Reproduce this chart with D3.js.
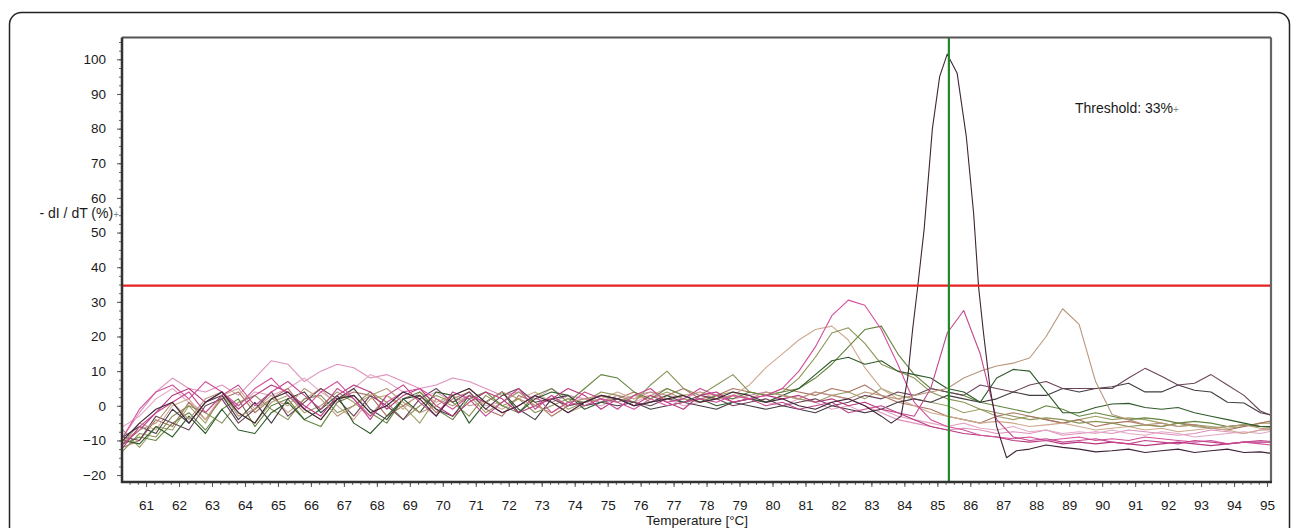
<!DOCTYPE html>
<html><head><meta charset="utf-8">
<script src="https://cdn.jsdelivr.net/npm/d3@7"></script>
<style>
html,body{margin:0;padding:0;background:#fff;}
svg{display:block;font-family:"Liberation Sans",Arial,sans-serif;}
</style></head><body>
<svg id="chart" width="1293" height="528"></svg>
<script>
// ---------- DATA ----------
const temps = [60.3,60.8,61.3,61.8,62.3,62.8,63.3,63.8,64.3,64.8,65.3,65.8,66.3,66.8,67.3,67.8,68.3,68.8,69.3,69.8,70.3,70.8,71.3,71.8,72.3,72.8,73.3,73.8,74.3,74.8,75.3,75.8,76.3,76.8,77.3,77.8,78.3,78.8,79.3,79.8,80.3,80.8,81.3,81.8,82.3,82.8,83.3,83.8,84.3,84.8,85.3,85.8,86.3,86.8,87.3,87.8,88.3,88.8,89.3,89.8,90.3,90.8,91.3,91.8,92.3,92.8,93.3,93.8,94.3,94.8,95.3];

const peakTemps = [60.3,60.8,61.3,61.8,62.3,62.8,63.3,63.8,64.3,64.8,65.3,65.8,66.3,66.8,67.3,67.8,68.3,68.8,69.3,69.8,70.3,70.8,71.3,71.8,72.3,72.8,73.3,73.8,74.3,74.8,75.3,75.8,76.3,76.8,77.3,77.8,78.3,78.8,79.3,79.8,80.3,80.8,81.3,81.8,82.3,82.8,83.3,
  83.6,83.9,84.1,84.25,84.4,84.6,84.85,85.07,85.3,85.6,85.88,86.1,86.25,86.4,86.6,86.8,87.1,87.4,87.8,88.3,88.8,89.3,89.8,90.3,90.8,91.3,91.8,92.3,92.8,93.3,93.8,94.3,94.8,95.3];
const peakValues = [-10,-5,-1,1,-5,1,4,-2,-5,2, 4,-1,-4,2,3,-2,0,4,2,-3, 3,5,1,-2,0,3,1,-2,1,3, 2,0,1,2,3,1,2,4,3,1, 2,0,-1,1,2,0,-3,
  -5,-3,8,22,34,51,80,95,101.5,96,77.6,55.6,34.4,21,5,-6,-15,-13,-12.5,-11.3,-12,-12.5,-13.3,-13,-12.5,-13.5,-13,-12.5,-13.5,-13,-12.5,-13.5,-13.3,-14];

const pink2Values = [-12,-6,-2,1,4,-2,3,6,0,4, 7,3,-1,5,2,-4,3,6,1,-3, 4,2,-3,1,5,-1,3,0,4,2, -1,3,5,1,2,5,3,1,2,0, 1,-1,0,1,-2,-1,0,-2,-3,5, 21,27.5,15,-4,-9,-10,-9.5,-10.5,-10,-9.5, -10.5,-11,-10,-10.5,-11,-10,-10.5,-11,-10.5,-10,-10.5];
const tanLateValues = [-10,-7,-5,1,-4,2,4,-3,-1,2, 0,5,2,-3,0,3,5,1,-2,0, 3,0,1,4,2,0,-2,1,2,3, 1,3,4,2,3,1,2,3,2,4, 3,2,4,3,2,4,3,2,3,4, 5,8,10,11.5,12.3,13.8,20,28,23.5,7, -2.5,-4,-5.5,-5,-6,-5.5,-6.5,-6,-5.5,-6.5,-7];
const pinkAValues = [-9,-1,4,6,2,7,4,0,5,8, 3,-1,4,7,2,-3,1,4,5,2, -1,3,1,-2,0,3,-2,1,0,2, 1,-1,2,0,1,2,1,3,2,3, 5,10,17,26,30.5,29,22,12,1,-4, -6,-7,-8.5,-9,-9.5,-9,-10,-9.5,-9,-10, -9.5,-10,-9,-9.5,-10,-10.5,-10,-11,-10.5,-11,-11.5];
const tanEarlyValues = [-11,-5,-7,0,2,-4,3,5,-1,3, -2,2,5,0,-4,2,3,-1,4,1, 3,5,1,-1,2,4,1,-2,0,2, 4,2,3,5,3,4,2,3,6,11, 15,19,22,23,19,11,5,2,0,-2, -3,-4,-5,-4.5,-5,-6,-5.5,-5,-6,-7, -6.5,-6,-7,-6.5,-7.5,-7,-6.5,-7,-8,-7,-7];
const oliveValues = [-13,-8,-9,-3,0,-2,-5,1,3,-1, -4,2,3,-2,0,4,1,-4,0,3, 1,-3,3,0,2,-2,0,2,1,4, 3,1,6,10,5,3,6,9,4,3, 4,8,14,21,22.5,18,12,10,8,4, 2,1,-1,-2,-3,-4,-3.5,-4,-5,-4.5, -5,-6,-5.5,-6,-5,-6,-6.5,-6,-5.5,-6,-6.5];
const greenValues = [-11,-9,-10,-5,-2,-7,-1,2,-6,0, 2,-4,-6,1,3,-2,-5,2,4,-1, -4,2,4,0,-2,3,5,1,5,9, 8,4,2,5,3,1,3,2,4,3, 4,5,8,12,17,22,23,15,9,5, 4,3,1,0,-1,-2,0,-1,-3,-2, -3,-4,-3.5,-4,-5,-4.5,-5,-6,-5.5,-6,-6];
const darkGreenValues = [-10,-11,-6,-9,-3,-8,-1,-7,-8,-2, 1,-4,-1,3,-5,-8,-3,2,-2,4, 3,-5,1,4,-2,2,4,3,-1,1, 2,0,1,3,1,2,0,1,2,1, 3,5,9,13,14,12,13,10,9,8, 5,4,1,8,10.5,10,4,-2,-2,-0.5, 0.5,0.7,-0.5,-1,-0.5,-2,-3,-4,-5,-6,-6];
const mauveValues = [-9,-10,-3,-5,-7,0,2,-5,-1,4, -3,1,5,2,-3,3,0,-4,2,5, 1,4,-1,3,5,1,2,0,1,3, 2,1,0,2,1,3,2,0,1,2, 0,1,2,0,1,3,2,4,3,5, 4,3,6,5,4,6,7,5,5,5, 5,8,10.8,8.5,6,6.5,9,6,3,-1.5,-3.5];
const darkGrayValues = [-9,-6,-8,-1,-5,1,3,-4,1,-5, 2,4,-2,2,5,-1,-4,2,3,-1, -3,3,1,4,-1,-4,2,3,0,1, 0,1,-1,0,1,0,-1,1,0,-1, 0,-1,-2,0,-1,-2,-1,1,2,1, 3,2,1,2,4,3,3,5,4,5, 5.5,6.5,4,4,6,4.5,4,1,0.8,-2,-3];
const lightPinkValues = [-9,-2,4,8,5,4,6,3,8,13, 12,7,10,12,11,8,9,7,5,6, 8,7,5,3,4,2,1,3,2,1, 3,2,4,3,2,4,3,2,3,4, 3,2,4,3,2,0,-2,-4,-5,-6, -7,-6.5,-7,-8,-7.5,-8,-7,-8.5,-8,-7.5, -8,-7,-7.5,-8,-8.5,-8,-7,-7.5,-8,-7,-6.5];
const magentaValues = [-11,-7,-2,3,5,1,4,-1,3,6, 4,0,-3,3,6,4,-1,3,5,0, -3,1,4,2,-2,0,2,5,3,-1, 2,0,3,1,-1,3,4,1,2,3, 2,3,1,2,0,1,-1,-2,-4,-6, -7,-8,-8.5,-9,-10,-10.5,-10,-11,-10.5,-11, -10.5,-11,-11.5,-11,-10.5,-11,-11.5,-11,-10.5,-10.5,-10.5];
const roseBrownValues = [-12,-10,-4,-6,1,-4,2,4,-2,2, 5,-1,-4,2,4,3,-3,0,3,-2, 2,4,-1,-3,3,1,-3,0,1,3, 2,4,1,3,5,2,3,5,4,3, 5,4,3,5,4,6,3,1,0,-1, -3,-4,-5,-3,-2,-3,-4,-5,-4,-6, -5,-4.5,-5.5,-6,-5,-5.5,-6.5,-7,-6,-5,-4];
const oliveLightValues = [-7,-12,-6,-7,0,-5,3,-2,-5,1, 3,-2,0,4,1,-3,3,0,-5,2, 0,3,-2,1,4,0,3,-1,1,2, 1,3,2,4,2,1,3,4,2,1, 3,2,1,3,4,2,5,3,2,1, 0,-2,-1,-3,-4,-3,-4,-5,-4,-3, -4,-3.5,-4,-5,-6,-5.5,-6,-6.5,-6,-5,-5];
const palePinkValues = [-6,-3,2,5,1,-2,3,0,4,3, 5,8,4,1,5,9,7,4,2,4, 1,3,0,1,4,2,5,2,1,0, 2,1,3,2,0,1,2,3,2,1, 0,2,1,-1,0,-2,-1,-3,-4,-5, -6,-5,-6.5,-7,-6,-7.5,-7,-8,-7.5,-8, -7,-8,-8.5,-7.5,-8,-9,-8.5,-8,-7.5,-8,-7];

const xTickLabels = [61,62,63,64,65,66,67,68,69,70,71,72,73,74,75,76,77,78,79,80,81,82,83,84,85,86,87,88,89,90,91,92,93,94,95];
const yTickLabels = [-20,-10,0,10,20,30,40,50,60,70,80,90,100];
const thresholdValue = 34.7;
const meltTemp = 85.35;

// ---------- CHART ----------
const plot = {left: 122, right: 1271, top: 37.5, bottom: 482};
const svg = d3.select("#chart");

const x = d3.scaleLinear().domain([60.27, 95.12]).range([plot.left, plot.right]);
const y = d3.scaleLinear().domain([-22, 106.3]).range([plot.bottom, plot.top]);

// outer rounded border
svg.append("rect").attr("x", 9.5).attr("y", 12.5).attr("width", 1280).attr("height", 540)
  .attr("rx", 12).attr("fill", "none").attr("stroke", "#222").attr("stroke-width", 1.5);

svg.append("defs").append("clipPath").attr("id", "clip")
  .append("rect").attr("x", plot.left).attr("y", plot.top)
  .attr("width", plot.right - plot.left).attr("height", plot.bottom - plot.top);

const series = [
  {values: lightPinkValues, color: "#de90bb"},
  {values: palePinkValues, color: "#e3a7c4"},
  {values: oliveLightValues, color: "#a0a06a"},
  {values: roseBrownValues, color: "#a9735f"},
  {values: tanEarlyValues, color: "#cfa98f"},
  {values: oliveValues, color: "#8b9258"},
  {values: greenValues, color: "#64853f"},
  {values: darkGrayValues, color: "#433c44"},
  {values: mauveValues, color: "#6b4458"},
  {values: darkGreenValues, color: "#2f5a2b"},
  {values: magentaValues, color: "#b8367e"},
  {values: tanLateValues, color: "#b8977c"},
  {values: pinkAValues, color: "#d24f9b"},
  {values: pink2Values, color: "#c4478f"}
].map(s => ({color: s.color, pts: temps.map((t, i) => [t, s.values[i]]).filter(p => p[1] !== undefined)}));
series.push({color: "#3e2537", pts: peakTemps.map((t, i) => [t, peakValues[i]]).filter(p => p[1] !== undefined)});

const line = d3.line().x(d => x(d[0])).y(d => y(d[1]));

const gLines = svg.append("g").attr("clip-path", "url(#clip)");
gLines.selectAll("path").data(series).join("path")
  .attr("d", d => line(d.pts)).attr("fill", "none")
  .attr("stroke", d => d.color).attr("stroke-width", 1.1).attr("stroke-linejoin", "round");

// threshold + melting temp lines
svg.append("line").attr("x1", plot.left).attr("x2", plot.right)
  .attr("y1", y(thresholdValue)).attr("y2", y(thresholdValue))
  .attr("stroke", "#e52222").attr("stroke-width", 2.2);
svg.append("line").attr("x1", x(meltTemp)).attr("x2", x(meltTemp))
  .attr("y1", plot.top).attr("y2", plot.bottom)
  .attr("stroke", "#23882a").attr("stroke-width", 2.2);

// frame (top / right)
svg.append("line").attr("x1", plot.left).attr("x2", plot.right).attr("y1", plot.top).attr("y2", plot.top)
  .attr("stroke", "#555").attr("stroke-width", 2);
svg.append("line").attr("x1", plot.right).attr("x2", plot.right).attr("y1", plot.top).attr("y2", plot.bottom)
  .attr("stroke", "#666").attr("stroke-width", 2.2);

// axes
const fontSize = 13.5;
const yMinor = d3.range(-20, 106, 2.5);
svg.append("g").attr("transform", `translate(${plot.left},0)`)
  .call(d3.axisLeft(y).tickValues(yMinor).tickSize(3).tickFormat(""))
  .call(g => g.select(".domain").remove())
  .call(g => g.selectAll("line").attr("stroke", "#666"));
svg.append("g").attr("transform", `translate(${plot.left},0)`)
  .call(d3.axisLeft(y).tickValues(yTickLabels).tickSize(5).tickPadding(11))
  .call(g => g.select(".domain").remove())
  .call(g => g.selectAll("line").attr("stroke", "#555"))
  .call(g => g.selectAll("text").attr("font-size", fontSize).attr("fill", "#1a1a1a")
    .attr("font-family", "'Liberation Sans', Arial, sans-serif"));

const xMinor = d3.range(60.5, 95.1, 0.25);
svg.append("g").attr("transform", `translate(0,${plot.bottom})`)
  .call(d3.axisBottom(x).tickValues(xMinor).tickSize(3).tickFormat(""))
  .call(g => g.select(".domain").remove())
  .call(g => g.selectAll("line").attr("stroke", "#666"));
svg.append("g").attr("transform", `translate(0,${plot.bottom})`)
  .call(d3.axisBottom(x).tickValues(xTickLabels).tickSize(5).tickPadding(13))
  .call(g => g.select(".domain").remove())
  .call(g => g.selectAll("line").attr("stroke", "#555"))
  .call(g => g.selectAll("text").attr("font-size", fontSize).attr("fill", "#1a1a1a")
    .attr("font-family", "'Liberation Sans', Arial, sans-serif"));

// axis lines (left / bottom)
svg.append("line").attr("x1", plot.left).attr("x2", plot.left).attr("y1", plot.top).attr("y2", plot.bottom + 1)
  .attr("stroke", "#333").attr("stroke-width", 2.5);
svg.append("line").attr("x1", plot.left - 1).attr("x2", plot.right + 1).attr("y1", plot.bottom).attr("y2", plot.bottom)
  .attr("stroke", "#333").attr("stroke-width", 2.5);

// titles
const yTitle = svg.append("text").attr("x", 119).attr("y", 218).attr("text-anchor", "end")
  .attr("font-size", 14).attr("fill", "#1a1a1a");
yTitle.append("tspan").text("- dI / dT (%)");
yTitle.append("tspan").attr("font-size", 10).attr("fill", "#888").text("+");

svg.append("text").attr("x", 697).attr("y", 525).attr("text-anchor", "middle")
  .attr("font-size", fontSize).attr("fill", "#1a1a1a").text("Temperature [°C]");

const th = svg.append("text").attr("x", 1075).attr("y", 113)
  .attr("font-size", 14).attr("fill", "#1a1a1a");
th.append("tspan").text("Threshold: 33%");
th.append("tspan").attr("font-size", 10).attr("fill", "#888").text("+");
</script>
</body></html>
